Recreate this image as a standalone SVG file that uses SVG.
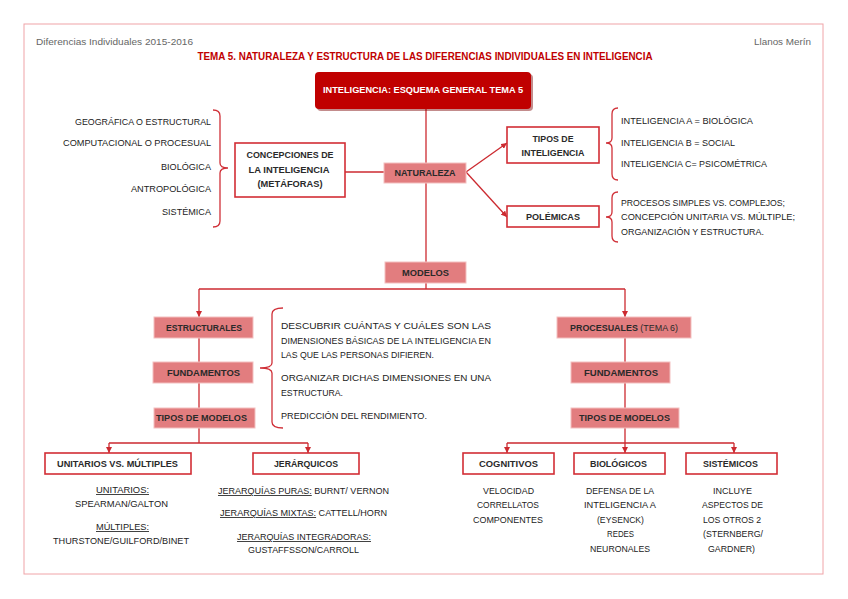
<svg xmlns="http://www.w3.org/2000/svg" width="848" height="599" viewBox="0 0 848 599">
<defs>
<style>
text{font-family:"Liberation Sans",Arial,sans-serif}
.hd{font-size:9px;fill:#666}
.ttl{font-size:10.5px;font-weight:bold;fill:#c00000;text-anchor:middle}
.b{font-size:8.7px;font-weight:bold;fill:#2a2a2a;text-anchor:middle}
.w{font-size:9px;font-weight:bold;fill:#fff;text-anchor:middle}
.t{font-size:8.5px;fill:#222}
.m{text-anchor:middle}
.e{text-anchor:end}
.sal{fill:#e27d7f;stroke:#f3c0c0;stroke-width:1}
.wb{fill:#fff;stroke:#d22d35;stroke-width:1.6}
.ln{fill:none;stroke:#cc2a30;stroke-width:1.3}
.br{fill:none;stroke:#d03038;stroke-width:1.3}
.u{text-decoration:underline}
.n{font-weight:normal}
</style>
<marker id="ar" viewBox="0 0 6 6" refX="6" refY="3" markerWidth="6" markerHeight="6" markerUnits="userSpaceOnUse" orient="auto">
<path d="M0,0 L6,3 L0,6 z" fill="#cc2a30"/>
</marker>
</defs>
<rect width="848" height="599" fill="#fff"/>
<rect x="24" y="24" width="799" height="550" fill="none" stroke="#f0a4a8" stroke-width="1"/>
<text class="hd" x="36" y="45" textLength="157" lengthAdjust="spacingAndGlyphs">Diferencias Individuales 2015-2016</text>
<text class="hd e" x="811" y="45" textLength="57" lengthAdjust="spacingAndGlyphs">Llanos Merín</text>
<text class="ttl" x="425" y="60" textLength="455" lengthAdjust="spacingAndGlyphs">TEMA 5. NATURALEZA Y ESTRUCTURA DE LAS DIFERENCIAS INDIVIDUALES EN INTELIGENCIA</text>

<g id="connectors">
<path class="ln" d="M426,109 V289"/>
<path class="ln" d="M345,172 H384"/>
<path class="ln" d="M466,172 L507,143" marker-end="url(#ar)"/>
<path class="ln" d="M466,172 L507,217" marker-end="url(#ar)"/>
<path class="ln" d="M199,289 H625"/>
<path class="ln" d="M199,289 V317" marker-end="url(#ar)"/>
<path class="ln" d="M625,289 V317" marker-end="url(#ar)"/>
<path class="ln" d="M199,338 V408"/>
<path class="ln" d="M625,338 V408"/>
<path class="ln" d="M199,428 V443 M109,443 H308"/>
<path class="ln" d="M109,443 V453" marker-end="url(#ar)"/>
<path class="ln" d="M308,443 V453" marker-end="url(#ar)"/>
<path class="ln" d="M625,428 V443 M507,443 H734"/>
<path class="ln" d="M507,443 V453" marker-end="url(#ar)"/>
<path class="ln" d="M625,443 V453" marker-end="url(#ar)"/>
<path class="ln" d="M734,443 V453" marker-end="url(#ar)"/>
</g>

<g id="braces">
<path class="br" d="M213,110 Q220,110 220,116 V163 Q220,168 228,168 Q220,168 220,173 V221 Q220,227 213,227"/>
<path class="br" d="M618,108 Q612,108 612,114 V138 Q612,143 606,143 Q612,143 612,148 V174 Q612,180 618,180"/>
<path class="br" d="M618,192 Q612,192 612,198 V212 Q612,217 606,217 Q612,217 612,222 V236 Q612,242 618,242"/>
<path class="br" d="M283,308 Q272,308 272,314 V363 Q272,368 260,368 Q272,368 272,373 V422 Q272,428 283,428"/>
</g>

<g id="n-top">
<rect x="317" y="74" width="216" height="37" rx="4" fill="#7a0000" opacity="0.45"/>
<rect x="315" y="72" width="216" height="37" rx="4" fill="#c00000"/>
<text class="w" x="423" y="93" textLength="200" lengthAdjust="spacingAndGlyphs">INTELIGENCIA: ESQUEMA GENERAL TEMA 5</text>
</g>

<g id="n-metaforas">
<text class="t e" x="211" y="125" textLength="136" lengthAdjust="spacingAndGlyphs">GEOGRÁFICA O ESTRUCTURAL</text>
<text class="t e" x="211" y="146" textLength="148" lengthAdjust="spacingAndGlyphs">COMPUTACIONAL O PROCESUAL</text>
<text class="t e" x="211" y="170" textLength="50" lengthAdjust="spacingAndGlyphs">BIOLÓGICA</text>
<text class="t e" x="211" y="192" textLength="80" lengthAdjust="spacingAndGlyphs">ANTROPOLÓGICA</text>
<text class="t e" x="211" y="215" textLength="49" lengthAdjust="spacingAndGlyphs">SISTÉMICA</text>
</g>

<g id="n-concepciones">
<rect class="wb" x="235" y="143" width="110" height="54"/>
<text class="b" x="290" y="158" textLength="87" lengthAdjust="spacingAndGlyphs">CONCEPCIONES DE</text>
<text class="b" x="289" y="173" textLength="81" lengthAdjust="spacingAndGlyphs">LA INTELIGENCIA</text>
<text class="b" x="290" y="187" textLength="65" lengthAdjust="spacingAndGlyphs">(METÁFORAS)</text>
</g>

<g id="n-naturaleza">
<rect class="sal" x="384" y="163" width="82" height="20"/>
<text class="b" x="425" y="176" textLength="61" lengthAdjust="spacingAndGlyphs">NATURALEZA</text>
</g>

<g id="n-tipos-int">
<rect class="wb" x="507" y="127" width="92" height="36"/>
<text class="b" x="553" y="142" textLength="41" lengthAdjust="spacingAndGlyphs">TIPOS DE</text>
<text class="b" x="553" y="156" textLength="63" lengthAdjust="spacingAndGlyphs">INTELIGENCIA</text>
</g>
<g id="n-tipos-int-list">
<text class="t" x="621" y="124" textLength="132" lengthAdjust="spacingAndGlyphs">INTELIGENCIA A = BIOLÓGICA</text>
<text class="t" x="621" y="146" textLength="114" lengthAdjust="spacingAndGlyphs">INTELIGENCIA B = SOCIAL</text>
<text class="t" x="621" y="167" textLength="146" lengthAdjust="spacingAndGlyphs">INTELIGENCIA C= PSICOMÉTRICA</text>
</g>

<g id="n-polemicas">
<rect class="wb" x="507" y="206" width="92" height="21"/>
<text class="b" x="553" y="220" textLength="54" lengthAdjust="spacingAndGlyphs">POLÉMICAS</text>
</g>
<g id="n-polemicas-list">
<text class="t" x="621" y="206" textLength="164" lengthAdjust="spacingAndGlyphs">PROCESOS SIMPLES VS. COMPLEJOS;</text>
<text class="t" x="621" y="220" textLength="174" lengthAdjust="spacingAndGlyphs">CONCEPCIÓN UNITARIA VS. MÚLTIPLE;</text>
<text class="t" x="621" y="235" textLength="143" lengthAdjust="spacingAndGlyphs">ORGANIZACIÓN Y ESTRUCTURA.</text>
</g>

<g id="n-modelos">
<rect class="sal" x="385" y="262" width="81" height="21"/>
<text class="b" x="425.5" y="276" textLength="47" lengthAdjust="spacingAndGlyphs">MODELOS</text>
</g>

<g id="n-estructurales">
<rect class="sal" x="154" y="317" width="99" height="21"/>
<text class="b" x="204" y="331" textLength="76" lengthAdjust="spacingAndGlyphs">ESTRUCTURALES</text>
</g>
<g id="n-fund-l">
<rect class="sal" x="153" y="362" width="100" height="21"/>
<text class="b" x="203.5" y="376" textLength="73" lengthAdjust="spacingAndGlyphs">FUNDAMENTOS</text>
</g>
<g id="n-tipos-l">
<rect class="sal" x="154" y="408" width="101" height="20"/>
<text class="b" x="201.5" y="421" textLength="91" lengthAdjust="spacingAndGlyphs">TIPOS DE MODELOS</text>
</g>
<g id="n-fund-text">
<text class="t" x="281" y="329" textLength="210" lengthAdjust="spacingAndGlyphs">DESCUBRIR CUÁNTAS Y CUÁLES SON LAS</text>
<text class="t" x="281" y="344" textLength="210" lengthAdjust="spacingAndGlyphs">DIMENSIONES BÁSICAS DE LA INTELIGENCIA EN</text>
<text class="t" x="281" y="358" textLength="153" lengthAdjust="spacingAndGlyphs">LAS QUE LAS PERSONAS DIFIEREN.</text>
<text class="t" x="281" y="381" textLength="210" lengthAdjust="spacingAndGlyphs">ORGANIZAR DICHAS DIMENSIONES EN UNA</text>
<text class="t" x="281" y="396" textLength="62" lengthAdjust="spacingAndGlyphs">ESTRUCTURA.</text>
<text class="t" x="281" y="419" textLength="146" lengthAdjust="spacingAndGlyphs">PREDICCIÓN DEL RENDIMIENTO.</text>
</g>

<g id="n-procesuales">
<rect class="sal" x="557" y="317" width="134" height="21"/>
<text class="b" x="624" y="331" textLength="108" lengthAdjust="spacingAndGlyphs">PROCESUALES <tspan class="n">(TEMA 6)</tspan></text>
</g>
<g id="n-fund-r">
<rect class="sal" x="571" y="362" width="99" height="21"/>
<text class="b" x="621" y="376" textLength="74" lengthAdjust="spacingAndGlyphs">FUNDAMENTOS</text>
</g>
<g id="n-tipos-r">
<rect class="sal" x="571" y="408" width="108" height="20"/>
<text class="b" x="624.5" y="421" textLength="91" lengthAdjust="spacingAndGlyphs">TIPOS DE MODELOS</text>
</g>

<g id="n-unitarios">
<rect class="wb" x="45" y="453" width="146" height="21"/>
<text class="b" x="117.5" y="467" textLength="121" lengthAdjust="spacingAndGlyphs">UNITARIOS VS. MÚLTIPLES</text>
<text class="t m" x="122.5" y="493" textLength="53" lengthAdjust="spacingAndGlyphs"><tspan class="u">UNITARIOS:</tspan></text>
<text class="t m" x="121.5" y="507" textLength="93" lengthAdjust="spacingAndGlyphs">SPEARMAN/GALTON</text>
<text class="t m" x="122.5" y="530" textLength="53" lengthAdjust="spacingAndGlyphs"><tspan class="u">MÚLTIPLES:</tspan></text>
<text class="t m" x="121" y="544" textLength="136" lengthAdjust="spacingAndGlyphs">THURSTONE/GUILFORD/BINET</text>
</g>

<g id="n-jerarquicos">
<rect class="wb" x="253" y="453" width="106" height="21"/>
<text class="b" x="306" y="467" textLength="64" lengthAdjust="spacingAndGlyphs">JERÁRQUICOS</text>
<text class="t m" x="303.5" y="494" textLength="171" lengthAdjust="spacingAndGlyphs"><tspan class="u">JERARQUÍAS PURAS:</tspan> BURNT/ VERNON</text>
<text class="t m" x="303.5" y="516" textLength="167" lengthAdjust="spacingAndGlyphs"><tspan class="u">JERARQUÍAS MIXTAS:</tspan> CATTELL/HORN</text>
<text class="t m" x="304" y="540" textLength="134" lengthAdjust="spacingAndGlyphs"><tspan class="u">JERARQUÍAS INTEGRADORAS:</tspan></text>
<text class="t m" x="303.5" y="553" textLength="111" lengthAdjust="spacingAndGlyphs">GUSTAFFSSON/CARROLL</text>
</g>

<g id="n-cognitivos">
<rect class="wb" x="463" y="453" width="91" height="21"/>
<text class="b" x="508.5" y="467" textLength="59" lengthAdjust="spacingAndGlyphs">COGNITIVOS</text>
<text class="t m" x="508.5" y="494" textLength="51" lengthAdjust="spacingAndGlyphs">VELOCIDAD</text>
<text class="t m" x="508" y="508" textLength="62" lengthAdjust="spacingAndGlyphs">CORRELLATOS</text>
<text class="t m" x="508" y="523" textLength="70" lengthAdjust="spacingAndGlyphs">COMPONENTES</text>
</g>

<g id="n-biologicos">
<rect class="wb" x="574" y="453" width="91" height="21"/>
<text class="b" x="618.5" y="467" textLength="57" lengthAdjust="spacingAndGlyphs">BIOLÓGICOS</text>
<text class="t m" x="620" y="494" textLength="68" lengthAdjust="spacingAndGlyphs">DEFENSA DE LA</text>
<text class="t m" x="620" y="508" textLength="72" lengthAdjust="spacingAndGlyphs">INTELIGENCIA A</text>
<text class="t m" x="620.5" y="523" textLength="47" lengthAdjust="spacingAndGlyphs">(EYSENCK)</text>
<text class="t m" x="620.5" y="537" textLength="27" lengthAdjust="spacingAndGlyphs">REDES</text>
<text class="t m" x="620" y="552" textLength="60" lengthAdjust="spacingAndGlyphs">NEURONALES</text>
</g>

<g id="n-sistemicos">
<rect class="wb" x="686" y="453" width="91" height="21"/>
<text class="b" x="730.5" y="467" textLength="55" lengthAdjust="spacingAndGlyphs">SISTÉMICOS</text>
<text class="t m" x="732.5" y="494" textLength="39" lengthAdjust="spacingAndGlyphs">INCLUYE</text>
<text class="t m" x="732.5" y="508" textLength="61" lengthAdjust="spacingAndGlyphs">ASPECTOS DE</text>
<text class="t m" x="732" y="523" textLength="58" lengthAdjust="spacingAndGlyphs">LOS OTROS 2</text>
<text class="t m" x="733" y="537" textLength="60" lengthAdjust="spacingAndGlyphs">(STERNBERG/</text>
<text class="t m" x="731.5" y="552" textLength="47" lengthAdjust="spacingAndGlyphs">GARDNER)</text>
</g>
</svg>
